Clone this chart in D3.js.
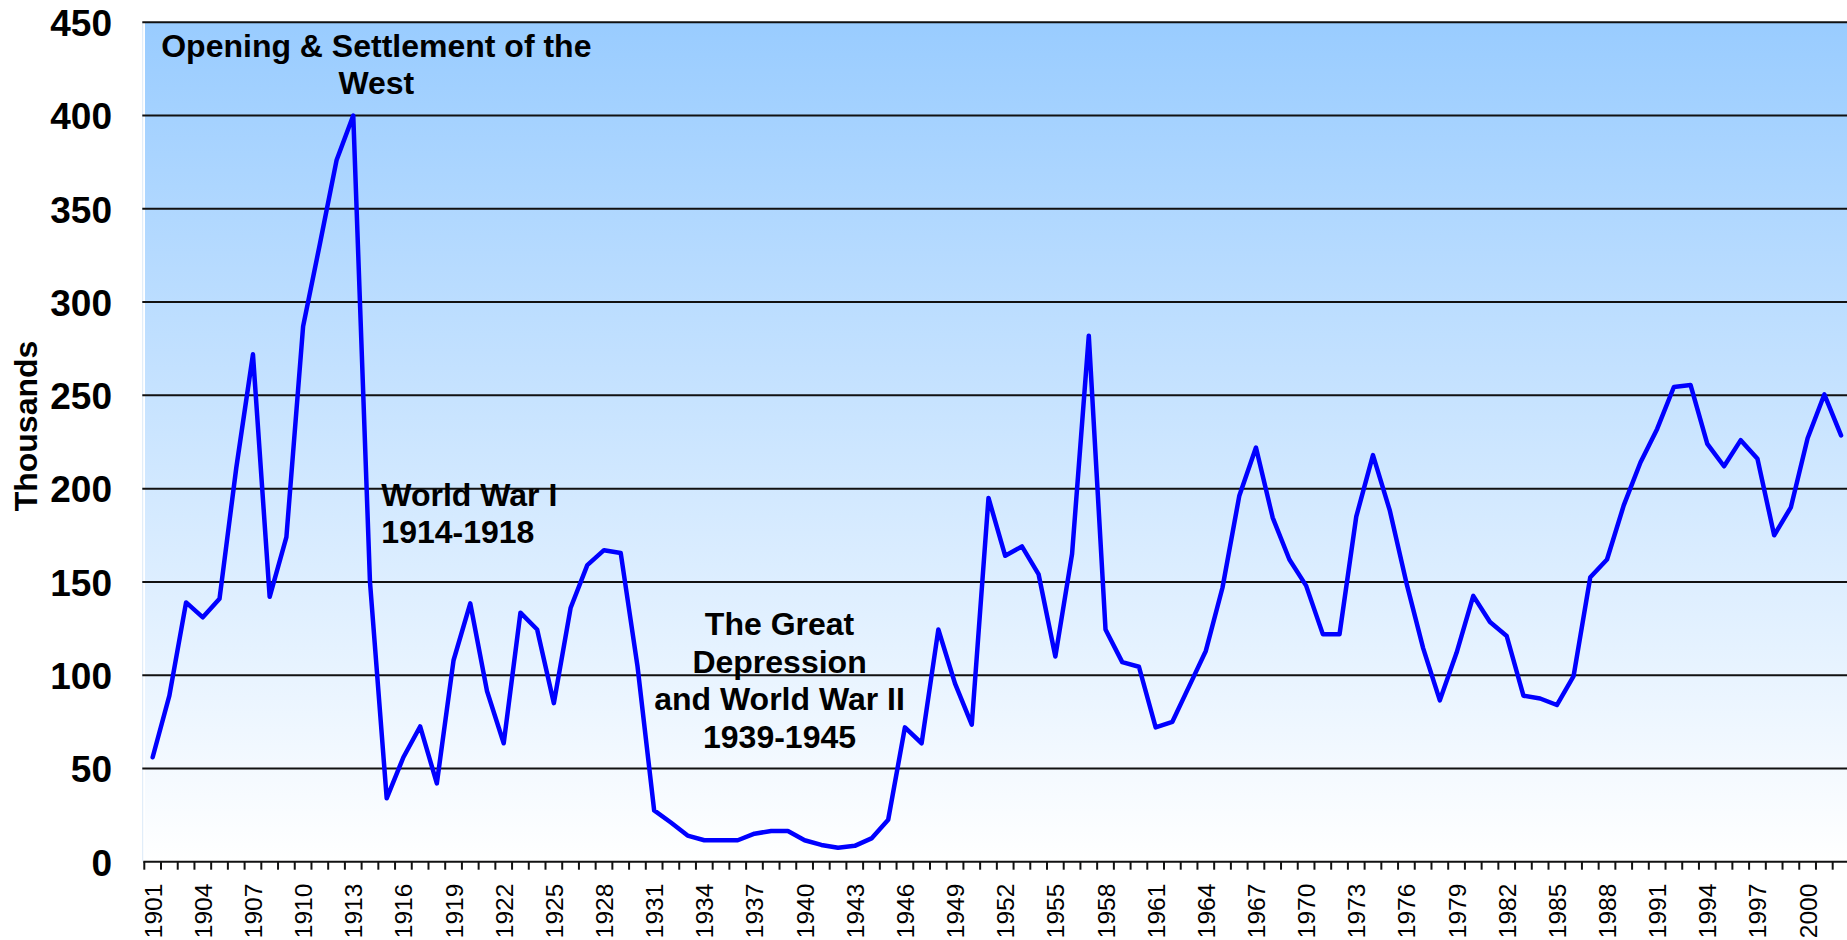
<!DOCTYPE html>
<html>
<head>
<meta charset="utf-8">
<script src="https://cdn.jsdelivr.net/npm/d3@7"></script>
<style>
  body { margin: 0; background: #fff; overflow: hidden; }
  svg text { font-family: "Liberation Sans", Arial, sans-serif; }
</style>
</head>
<body>
<svg id="chart" width="1847" height="940"></svg>
<script>
// immigrants to Canada, thousands per year
var years = d3.range(1901, 2003)
var immigrants = [
  56, 89, 139, 131, 141, 211, 272, 142, 174, 287,      // 1901-1910
  331, 376, 400, 150, 34, 56, 72.5, 42, 108, 138.5,    // 1911-1920
  91.5, 63.5, 133.5, 124.5, 85, 136, 159, 167, 165.5, 105, // 1921-1930
  27.5, 21, 14, 11.5, 11.5, 11.5, 15, 16.5, 16.5, 11.5, // 1931-1940
  9, 7.5, 8.5, 12.5, 22.5, 72, 63.5, 124.5, 95.5, 73.5, // 1941-1950
  195, 164, 169, 154, 110, 165, 282, 124.5, 107, 104.5, // 1951-1960
  72, 75, 94, 113, 147, 196, 222, 184.5, 162, 148,     // 1961-1970
  122, 122, 185, 218, 188.5, 149.5, 114.5, 86.5, 112, 142.5, // 1971-1980
  128.5, 121, 89, 87.5, 84, 99.5, 152.5, 162, 191, 214, // 1981-1990
  232, 254.5, 255.5, 224, 212, 226, 216, 175, 190, 227, // 1991-2000
  250.5, 228.5                                          // 2001-2002
]
var yTicks = [0, 50, 100, 150, 200, 250, 300, 350, 400, 450]
var xTickLabels = years.filter(function(y) { return (y - 1901) % 3 === 0 })

var westLines = ["Opening & Settlement of the", "West"]
var wwiLines = ["World War I", "1914-1918"]
var depressionLines = ["The Great", "Depression", "and World War II", "1939-1945"]

var svg = d3.select("#chart")

var plotLeft = 144.3,
    plotRight = 1849.4,
    plotTop = 22.3,
    plotBottom = 861.7

var x = d3.scaleBand()
    .domain(years)
    .range([plotLeft, plotRight])
    .paddingInner(0)
    .paddingOuter(0)

var y = d3.scaleLinear()
    .domain([0, 450])
    .range([plotBottom, plotTop])

var defs = svg.append("defs")
var grad = defs.append("linearGradient")
    .attr("id", "bg")
    .attr("x1", 0).attr("y1", 0)
    .attr("x2", 0).attr("y2", 1)
grad.append("stop").attr("offset", "0%").attr("stop-color", "#99ccff")
grad.append("stop").attr("offset", "100%").attr("stop-color", "#ffffff")

// plot background
svg.append("rect")
    .attr("x", plotLeft + 0.7)
    .attr("y", plotTop)
    .attr("width", plotRight - plotLeft)
    .attr("height", plotBottom - plotTop)
    .attr("fill", "url(#bg)")

// faint left edge
svg.append("line")
    .attr("x1", plotLeft - 1.6).attr("x2", plotLeft - 1.6)
    .attr("y1", plotTop).attr("y2", plotBottom)
    .attr("stroke", "#dbe9f8")
    .attr("stroke-width", 1)

// gridlines
svg.append("g")
    .attr("class", "grid")
    .selectAll("line")
    .data(yTicks.filter(function(d) { return d > 0 }))
    .enter().append("line")
    .attr("x1", plotLeft - 2)
    .attr("x2", plotRight)
    .attr("y1", function(d) { return y(d) })
    .attr("y2", function(d) { return y(d) })
    .attr("stroke", "#111")
    .attr("stroke-width", 2)

// y axis labels
var yAxis = svg.append("g")
    .attr("transform", "translate(112,0)")
    .call(d3.axisLeft(y).tickValues(yTicks).tickSize(0).tickPadding(0))
yAxis.select(".domain").remove()
yAxis.selectAll("text")
    .attr("font-size", "37px")
    .attr("font-weight", "bold")
    .attr("fill", "#000")
    .attr("dy", "0.36em")
    .style("font-family", "'Liberation Sans', Arial, sans-serif")

svg.append("text")
    .attr("transform", "translate(37,426) rotate(-90)")
    .attr("text-anchor", "middle")
    .attr("font-size", "32px")
    .attr("font-weight", "bold")
    .text("Thousands")

// x axis: ticks on band edges, labels every 3rd year
var xAxisG = svg.append("g").attr("class", "xaxis")
xAxisG.append("line")
    .attr("x1", plotLeft - 1)
    .attr("x2", plotRight)
    .attr("y1", plotBottom)
    .attr("y2", plotBottom)
    .attr("stroke", "#111")
    .attr("stroke-width", 2)
xAxisG.selectAll("line.tick")
    .data(years)
    .enter().append("line")
    .attr("class", "tick")
    .attr("x1", function(d) { return x(d) })
    .attr("x2", function(d) { return x(d) })
    .attr("y1", plotBottom)
    .attr("y2", plotBottom + 8)
    .attr("stroke", "#111")
    .attr("stroke-width", 2)
xAxisG.selectAll("text")
    .data(xTickLabels)
    .enter().append("text")
    .attr("transform", function(d) {
      return "translate(" + (x(d) + x.bandwidth() / 2 + 9) + "," + (plotBottom + 22) + ") rotate(-90)"
    })
    .attr("text-anchor", "end")
    .attr("font-size", "24.5px")
    .attr("fill", "#000")
    .text(function(d) { return d })

// series line
var line = d3.line()
    .x(function(d, i) { return x(years[i]) + x.bandwidth() / 2 })
    .y(function(d) { return y(d) })

svg.append("path")
    .datum(immigrants)
    .attr("d", line)
    .attr("fill", "none")
    .attr("stroke", "#0000ff")
    .attr("stroke-width", 4.5)
    .attr("stroke-linejoin", "round")
    .attr("stroke-linecap", "round")

// annotations
function annotate(lines, xpos, ypos, anchor) {
  svg.append("text")
    .attr("text-anchor", anchor)
    .attr("font-size", "32px")
    .attr("font-weight", "bold")
    .attr("fill", "#000")
    .selectAll("tspan")
    .data(lines)
    .enter().append("tspan")
    .attr("x", xpos)
    .attr("y", function(d, i) { return ypos + i * 37.5 })
    .text(function(d) { return d })
}

annotate(westLines, x(1915) - 2, y(431.4), "middle")
annotate(wwiLines, x(1915) + 3, y(190.7), "start")
annotate(depressionLines, x(1939), y(121.5), "middle")
</script>
</body>
</html>
